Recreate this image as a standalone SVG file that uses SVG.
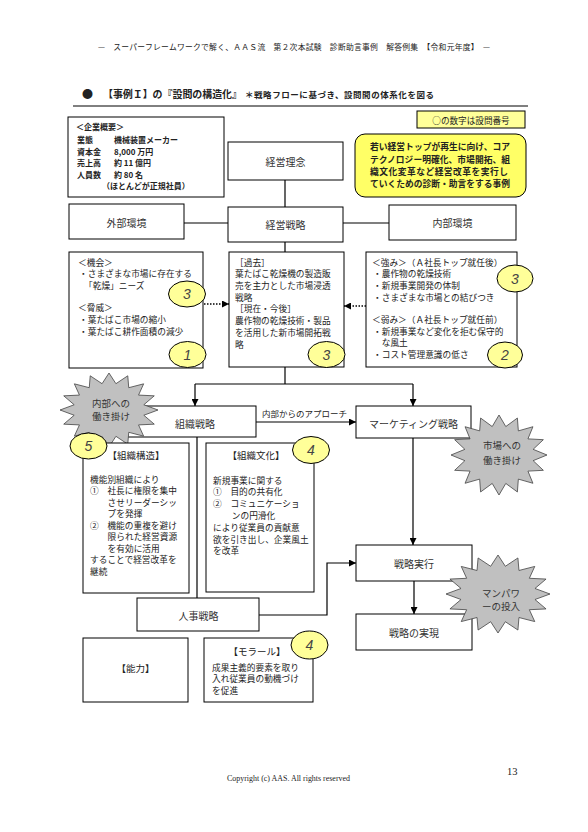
<svg xmlns="http://www.w3.org/2000/svg" xmlns:xlink="http://www.w3.org/1999/xlink" width="588" height="832" viewBox="0 0 588 832">
<style>
text{font-family:"Noto Sans CJK JP","Liberation Sans",sans-serif;dominant-baseline:central;fill:#222}
.box{fill:#fff;stroke:#000;stroke-width:1}
.lbl{font-size:10px;text-anchor:middle;fill:#333}
.s{font-size:8.7px}
.cb{font-size:8px;font-weight:bold}
.yb{font-size:8.75px;font-weight:bold}
.c{fill:#ffff99;stroke:#000;stroke-width:1}
.num{font-family:"Liberation Sans",sans-serif;font-style:italic;font-size:14px;fill:#444;text-anchor:middle}
.star{fill:#c0c0c0;stroke:#444;stroke-width:0.8}
.st{font-size:9.5px;text-anchor:middle;fill:#333}
.conn{stroke:#000;stroke-width:1.2;fill:none}
.dot{stroke:#000;stroke-width:1.5;stroke-dasharray:1.5 1.5;fill:none}
.ttl{font-size:9.5px;text-anchor:middle}
</style>
<defs>
<marker id="ah" viewBox="0 0 10 10" refX="10" refY="5" markerWidth="7" markerHeight="7" orient="auto" markerUnits="userSpaceOnUse"><path d="M0,0 L10,5 L0,10 z" fill="#000"/></marker>
<polygon id="star" vector-effect="non-scaling-stroke" points="1,0 0.711,0.1415 0.924,0.383 0.603,0.403 0.707,0.707 0.403,0.603 0.383,0.924 0.1415,0.711 0,1 -0.1415,0.711 -0.383,0.924 -0.403,0.603 -0.707,0.707 -0.603,0.403 -0.924,0.383 -0.711,0.1415 -1,0 -0.711,-0.1415 -0.924,-0.383 -0.603,-0.403 -0.707,-0.707 -0.403,-0.603 -0.383,-0.924 -0.1415,-0.711 0,-1 0.1415,-0.711 0.383,-0.924 0.403,-0.603 0.707,-0.707 0.603,-0.403 0.924,-0.383 0.711,-0.1415"/>
</defs>
<rect width="588" height="832" fill="#fff"/>

<g id="header">
<text x="98" y="46" font-size="7.8" textLength="392" lengthAdjust="spacing" fill="#333">—　スーパーフレームワークで解く、ＡＡＳ流　第２次本試験　診断助言事例　解答例集　【令和元年度】　—</text>
<text x="82" y="93" font-size="11" fill="#000">●</text>
<text x="103" y="93" font-size="10" font-weight="bold" textLength="139" lengthAdjust="spacing" fill="#000">【事例Ｉ】の『設問の構造化』</text>
<text x="245" y="94" font-size="8.5" font-weight="bold" textLength="189" lengthAdjust="spacing" fill="#000">＊戦略フローに基づき、設問間の体系化を図る</text>
<line x1="73" y1="106" x2="528" y2="106" stroke="#000" stroke-width="1"/>
</g>

<g id="company">
<rect class="box" x="68" y="117" width="156" height="80"/>
<text class="cb" x="76" y="126">＜企業概要＞</text>
<text class="cb" x="77" y="139">業態</text><text class="cb" x="114" y="139">機械装置メーカー</text>
<text class="cb" x="77" y="151">資本金</text><text class="cb" x="114" y="151">8,000 万円</text>
<text class="cb" x="77" y="162.5">売上高</text><text class="cb" x="114" y="162.5">約 11 億円</text>
<text class="cb" x="77" y="174">人員数</text><text class="cb" x="114" y="174">約 80 名</text>
<text class="cb" x="102" y="185.5">（ほとんどが正規社員）</text>
</g>

<g id="legend">
<rect x="417" y="111" width="108" height="17" fill="#ffff99" stroke="#000" stroke-width="1"/>
<text x="471" y="119.5" font-size="8.6" text-anchor="middle">○の数字は設問番号</text>
</g>

<g id="summary">
<rect x="355" y="134" width="171" height="63" rx="10" ry="10" fill="#ffff66" stroke="#000" stroke-width="1"/>
<text class="yb" x="370" y="146" textLength="140" lengthAdjust="spacing">若い経営トップが再生に向け、コア</text>
<text class="yb" x="370" y="159" textLength="140" lengthAdjust="spacing">テクノロジー明確化、市場開拓、組</text>
<text class="yb" x="370" y="171.5" textLength="138" lengthAdjust="spacing">織文化変革など経営改革を実行し</text>
<text class="yb" x="370" y="183.5" textLength="140" lengthAdjust="spacing">ていくための診断・助言をする事例</text>
</g>

<g id="connectors">
<line class="conn" x1="285" y1="180" x2="285" y2="207"/>
<line x1="184" y1="223" x2="228" y2="223" stroke="#555" stroke-width="1.5"/>
<line x1="343" y1="223" x2="389" y2="223" stroke="#555" stroke-width="1.5"/>
<line class="conn" x1="285" y1="242" x2="285" y2="252"/>
<line class="dot" x1="204" y1="304" x2="229" y2="304" marker-end="url(#ah)"/>
<line class="dot" x1="366" y1="306" x2="344" y2="306" marker-end="url(#ah)"/>
<polyline class="conn" points="285,367 285,384"/>
<polyline class="conn" points="195,384 413,384"/>
<line class="conn" x1="195" y1="384" x2="195" y2="406" marker-end="url(#ah)"/>
<line class="conn" x1="413" y1="384" x2="413" y2="406" marker-end="url(#ah)"/>
<line class="conn" x1="256" y1="422" x2="356" y2="422" marker-end="url(#ah)"/>
<text x="262" y="413" font-size="8.5">内部からのアプローチ</text>
<line class="conn" x1="413" y1="438" x2="413" y2="545" marker-end="url(#ah)"/>
<line class="conn" x1="197" y1="437" x2="197" y2="598"/>
<polyline class="conn" points="259,615 327,615 327,563 356,563" marker-end="url(#ah)"/>
<line class="conn" x1="414" y1="581" x2="414" y2="614" marker-end="url(#ah)"/>
</g>

<g id="philosophy">
<rect class="box" x="228" y="142" width="115" height="38"/>
<text class="lbl" x="285.5" y="161">経営理念</text>
</g>

<g id="external">
<rect class="box" x="69" y="204" width="115" height="35"/>
<text class="lbl" x="126.5" y="222">外部環境</text>
</g>

<g id="strategy">
<rect class="box" x="228" y="207" width="115" height="35"/>
<text class="lbl" x="285.5" y="224.5">経営戦略</text>
</g>

<g id="internal">
<rect class="box" x="389" y="205" width="127" height="35"/>
<text class="lbl" x="452.5" y="222.5">内部環境</text>
</g>

<g id="opportunity">
<rect class="box" x="69" y="252" width="134" height="116"/>
<text class="s" x="78" y="262">＜機会＞</text>
<text class="s" x="79" y="273.5">・さまざまな市場に存在する</text>
<text class="s" x="84" y="285">「乾燥」ニーズ</text>
<text class="s" x="78" y="307">＜脅威＞</text>
<text class="s" x="79" y="319">・葉たばこ市場の縮小</text>
<text class="s" x="79" y="331">・葉たばこ耕作面積の減少</text>
<ellipse class="c" cx="187" cy="294" rx="18.5" ry="13"/><text class="num" x="187" y="294">3</text>
<ellipse class="c" cx="187.5" cy="354.5" rx="18.5" ry="13"/><text class="num" x="187.5" y="354.5">1</text>
</g>

<g id="strategy-detail">
<rect class="box" x="229" y="252" width="115" height="115"/>
<text class="s" x="235" y="262">［過去］</text>
<text class="s" x="235" y="273.8" font-size="9.1">葉たばこ乾燥機の製造販</text>
<text class="s" x="235" y="285.5" font-size="9.1">売を主力とした市場浸透</text>
<text class="s" x="235" y="297.2" font-size="9.1">戦略</text>
<text class="s" x="235" y="308.9">［現在・今後］</text>
<text class="s" x="235" y="320.6" font-size="9.1">農作物の乾燥技術・製品</text>
<text class="s" x="235" y="332.3" font-size="9.1">を活用した新市場開拓戦</text>
<text class="s" x="235" y="344" font-size="9.1">略</text>
<ellipse class="c" cx="326.5" cy="354.5" rx="18.5" ry="13"/><text class="num" x="326.5" y="354.5">3</text>
</g>

<g id="strength">
<rect class="box" x="366" y="252" width="151" height="115"/>
<text class="s" x="372" y="262">＜強み＞（Ａ社長トップ就任後）</text>
<text class="s" x="373" y="273.5">・農作物の乾燥技術</text>
<text class="s" x="373" y="285">・新規事業開発の体制</text>
<text class="s" x="373" y="297">・さまざまな市場との結びつき</text>
<text class="s" x="372" y="319">＜弱み＞（Ａ社長トップ就任前）</text>
<text class="s" x="373" y="331">・新規事業など変化を拒む保守的</text>
<text class="s" x="381.7" y="342.5">な風土</text>
<text class="s" x="373" y="354">・コスト管理意識の低さ</text>
<ellipse class="c" cx="515" cy="278.5" rx="18" ry="13.5"/><text class="num" x="515" y="278.5">3</text>
<ellipse class="c" cx="505" cy="355" rx="17.5" ry="13"/><text class="num" x="505" y="355">2</text>
</g>

<g id="org-strategy">
<rect class="box" x="120" y="406" width="136" height="31"/>
<text class="lbl" x="195" y="423">組織戦略</text>
</g>

<g id="push-internal">
<use xlink:href="#star" class="star" transform="translate(109 410) scale(49 37)"/>
<text class="st" x="111" y="403">内部への</text>
<text class="st" x="111" y="416">働き掛け</text>
</g>

<g id="marketing">
<rect class="box" x="356" y="406" width="115" height="32"/>
<text class="lbl" x="413.5" y="423">マーケティング戦略</text>
</g>

<g id="push-market">
<use xlink:href="#star" class="star" transform="translate(499 455) scale(48 40)"/>
<text class="st" x="502" y="445">市場への</text>
<text class="st" x="502" y="460">働き掛け</text>
</g>

<g id="structure">
<rect class="box" x="83" y="443" width="106" height="150"/>
<text class="ttl" x="136" y="455">【組織構造】</text>
<text class="s" x="90" y="479" font-size="8.8">機能別組織により</text>
<text class="s" x="90" y="490.5" font-size="8.8">①　社長に権限を集中</text>
<text class="s" x="107.6" y="502" font-size="8.8">させリーダーシッ</text>
<text class="s" x="107.6" y="513.5" font-size="8.8">プを発揮</text>
<text class="s" x="90" y="525" font-size="8.8">②　機能の重複を避け</text>
<text class="s" x="107.6" y="536.5" font-size="8.8">限られた経営資源</text>
<text class="s" x="107.6" y="548" font-size="8.8">を有効に活用</text>
<text class="s" x="90" y="559.5" font-size="8.8">することで経営改革を</text>
<text class="s" x="90" y="571" font-size="8.8">継続</text>
<ellipse class="c" cx="88.5" cy="446" rx="18.5" ry="13"/><text class="num" x="88.5" y="446">5</text>
</g>

<g id="culture">
<rect class="box" x="206" y="443" width="108" height="149"/>
<text class="ttl" x="256" y="455">【組織文化】</text>
<text class="s" x="213" y="480" font-size="9">新規事業に関する</text>
<text class="s" x="213" y="491.8" font-size="9">①　目的の共有化</text>
<text class="s" x="213" y="503.6" font-size="9.4">②　コミュニケーショ</text>
<text class="s" x="231.8" y="515.4" font-size="9">ンの円滑化</text>
<text class="s" x="213" y="527.2" font-size="9.4">により従業員の貢献意</text>
<text class="s" x="213" y="539" font-size="8.6">欲を引き出し、企業風土</text>
<text class="s" x="213" y="550.8" font-size="9">を改革</text>
<ellipse class="c" cx="311" cy="450" rx="18.5" ry="13.5"/><text class="num" x="311" y="450">4</text>
</g>

<g id="hr">
<rect class="box" x="137" y="598" width="122" height="33"/>
<text class="lbl" x="198.5" y="615.5">人事戦略</text>
</g>

<g id="execution">
<rect class="box" x="356" y="545" width="116" height="36"/>
<text class="lbl" x="414" y="563">戦略実行</text>
</g>

<g id="realization">
<rect class="box" x="356" y="614" width="116" height="36"/>
<text class="lbl" x="414" y="632">戦略の実現</text>
</g>

<g id="manpower">
<use xlink:href="#star" class="star" transform="translate(498 594) scale(52 39)"/>
<text class="st" x="501" y="593">マンパワ</text>
<text class="st" x="501" y="606">ーの投入</text>
</g>

<g id="ability">
<rect class="box" x="83" y="638" width="105" height="64"/>
<text class="ttl" x="135.5" y="668">【能力】</text>
</g>

<g id="morale">
<rect class="box" x="204" y="638" width="109" height="64"/>
<text class="ttl" x="257" y="651">【モラール】</text>
<text class="s" x="212" y="667" font-size="8.8">成果主義的要素を取り</text>
<text class="s" x="212" y="678.5" font-size="8.8">入れ従業員の動機づけ</text>
<text class="s" x="212" y="690" font-size="8.8">を促進</text>
<ellipse class="c" cx="309.5" cy="645" rx="18.5" ry="14"/><text class="num" x="309.5" y="645">4</text>
</g>

<g id="footer">
<text x="227" y="778" font-size="7.5" textLength="123" lengthAdjust="spacingAndGlyphs" fill="#000" style="font-family:'Liberation Serif',serif">Copyright (c) AAS. All rights reserved</text>
<text x="507" y="771" font-size="10.5" fill="#000" style="font-family:'Liberation Serif',serif">13</text>
</g>
</svg>
